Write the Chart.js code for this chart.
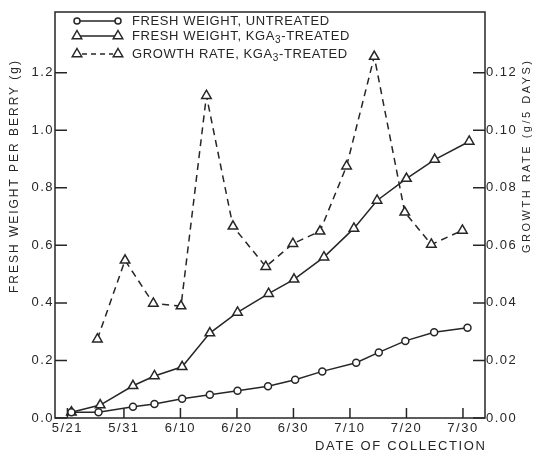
<!DOCTYPE html>
<html>
<head>
<meta charset="utf-8">
<script src="https://cdn.jsdelivr.net/npm/chart.js@4"></script>
<style>
html, body { margin: 0; padding: 0; background: #fff; }
#wrap { position: relative; width: 539px; height: 454px; }
</style>
</head>
<body>
<div id="wrap"><canvas id="berry-chart" width="539" height="454"></canvas></div>
<script>
// x values are days after 5/21
const untreatedDays = [0.7, 5.5, 11.6, 15.4, 20.3, 25.2, 30.1, 35.5, 40.3, 45.1, 51.1, 55.1, 59.8, 64.9, 70.8];
const untreatedWeight = [0.020, 0.020, 0.039, 0.049, 0.067, 0.081, 0.095, 0.110, 0.133, 0.162, 0.192, 0.228, 0.268, 0.298, 0.314];

const treatedDays = [0.7, 5.8, 11.6, 15.4, 20.3, 25.2, 30.1, 35.6, 40.1, 45.4, 50.7, 54.8, 60.0, 65.0, 71.1];
const treatedWeight = [0.020, 0.045, 0.112, 0.146, 0.178, 0.295, 0.367, 0.432, 0.482, 0.559, 0.659, 0.756, 0.832, 0.898, 0.961];

const rateDays = [5.3, 10.2, 15.2, 20.1, 24.6, 29.3, 35.1, 39.9, 44.7, 49.4, 54.3, 59.7, 64.4, 69.9];
const rateValues = [0.0274, 0.0548, 0.0398, 0.0389, 0.112, 0.0666, 0.0526, 0.0606, 0.0649, 0.0875, 0.1256, 0.0715, 0.0603, 0.0652];

const dateTicks = [0, 10, 20, 30, 40, 50, 60, 70];
const dateLabels = ['5/21', '5/31', '6/10', '6/20', '6/30', '7/10', '7/20', '7/30'];
const weightTicks = [0, 0.2, 0.4, 0.6, 0.8, 1.0, 1.2];
const rateTicks = [0, 0.02, 0.04, 0.06, 0.08, 0.10, 0.12];

const ink = '#262626';
const fontFamily = '"Liberation Sans", Arial, sans-serif';

function toPoints(xs, ys) {
    return xs.map((d, i) => ({ x: d, y: ys[i] }));
}

function triangle(ctx, x, y, r) {
    ctx.beginPath();
    ctx.moveTo(x, y - r);
    ctx.lineTo(x + r * 0.866, y + r * 0.5);
    ctx.lineTo(x - r * 0.866, y + r * 0.5);
    ctx.closePath();
    ctx.fillStyle = '#fff';
    ctx.fill();
    ctx.stroke();
}

function circle(ctx, x, y, r) {
    ctx.beginPath();
    ctx.arc(x, y, r, 0, Math.PI * 2);
    ctx.fillStyle = '#fff';
    ctx.fill();
    ctx.stroke();
}

// text spread out to a given width, like the hand lettering
function spacedText(ctx, text, x, y, width, align) {
    ctx.letterSpacing = '0px';
    const w = ctx.measureText(text).width;
    const gap = (width - w) / (text.length - 1);
    ctx.letterSpacing = gap + 'px';
    ctx.textAlign = 'left';
    const startX = align === 'right' ? x - width : (align === 'center' ? x - width / 2 : x);
    ctx.fillText(text, startX, y);
}

function legendLabel(ctx, parts, x, y) {
    ctx.letterSpacing = '0.6px';
    ctx.textAlign = 'left';
    let cx = x;
    parts.forEach(p => {
        ctx.font = p.sub ? '10px ' + fontFamily : '13px ' + fontFamily;
        ctx.fillText(p.t, cx, y + (p.sub ? 4 : 0));
        cx += ctx.measureText(p.t).width;
    });
}

const paperPlugin = {
    id: 'paper',
    beforeDraw(chart) {
        chart.ctx.letterSpacing = '1.5px';
    },
    afterDraw(chart) {
        const ctx = chart.ctx;
        const area = chart.chartArea;
        const sx = chart.scales.x, sy = chart.scales.y, sy2 = chart.scales.y2;
        ctx.save();
        ctx.strokeStyle = ink;
        ctx.fillStyle = ink;
        ctx.lineWidth = 1.5;
        ctx.strokeRect(area.left, area.top, area.right - area.left, area.bottom - area.top);

        ctx.beginPath();
        dateTicks.forEach(d => {
            const px = sx.getPixelForValue(d);
            ctx.moveTo(px, area.bottom);
            ctx.lineTo(px, area.bottom - 10);
        });
        weightTicks.forEach(v => {
            const py = sy.getPixelForValue(v);
            ctx.moveTo(area.left, py);
            ctx.lineTo(area.left + 12, py);
        });
        rateTicks.forEach(v => {
            const py = sy2.getPixelForValue(v);
            ctx.moveTo(area.right, py);
            ctx.lineTo(area.right - 12, py);
        });
        ctx.stroke();

        // axis titles
        ctx.textBaseline = 'middle';
        ctx.font = '12px ' + fontFamily;
        ctx.save();
        ctx.translate(15, 177);
        ctx.rotate(-Math.PI / 2);
        spacedText(ctx, 'FRESH WEIGHT PER BERRY (g)', 0, 0, 232, 'center');
        ctx.restore();

        ctx.font = '11px ' + fontFamily;
        ctx.save();
        ctx.translate(527, 157);
        ctx.rotate(-Math.PI / 2);
        spacedText(ctx, 'GROWTH RATE (g/5 DAYS)', 0, 0, 192, 'center');
        ctx.restore();

        ctx.font = '13px ' + fontFamily;
        spacedText(ctx, 'DATE OF COLLECTION', area.right, 446, 170, 'right');

        // legend
        const lx1 = 77, lx2 = 118, tx = 132;
        const rows = [21, 36, 54];
        ctx.lineWidth = 1.5;
        ctx.beginPath();
        ctx.moveTo(lx1, rows[0]); ctx.lineTo(lx2, rows[0]);
        ctx.moveTo(lx1, rows[1]); ctx.lineTo(lx2, rows[1]);
        ctx.stroke();
        ctx.setLineDash([5, 4]);
        ctx.beginPath();
        ctx.moveTo(lx1 + 5, rows[2]); ctx.lineTo(lx2 - 5, rows[2]);
        ctx.stroke();
        ctx.setLineDash([]);
        circle(ctx, lx1, rows[0], 3);
        circle(ctx, lx2, rows[0], 3);
        triangle(ctx, lx1, rows[1], 5.5);
        triangle(ctx, lx2, rows[1], 5.5);
        triangle(ctx, lx1, rows[2], 5.5);
        triangle(ctx, lx2, rows[2], 5.5);

        ctx.fillStyle = ink;
        legendLabel(ctx, [{ t: 'FRESH WEIGHT, UNTREATED' }], tx, rows[0]);
        legendLabel(ctx, [{ t: 'FRESH WEIGHT, KGA' }, { t: '3', sub: true }, { t: '-TREATED' }], tx, rows[1]);
        legendLabel(ctx, [{ t: 'GROWTH RATE, KGA' }, { t: '3', sub: true }, { t: '-TREATED' }], tx, rows[2]);
        ctx.restore();
        ctx.letterSpacing = '0px';
    }
};

const tickFont = { family: fontFamily, size: 13 };

const berryChart = new Chart(document.getElementById('berry-chart').getContext('2d'), {
    type: 'line',
    data: {
        datasets: [{
            label: 'FRESH WEIGHT, UNTREATED',
            data: toPoints(untreatedDays, untreatedWeight),
            yAxisID: 'y',
            borderColor: ink,
            borderWidth: 1.5,
            pointStyle: 'circle',
            pointRadius: 3.5,
            pointBorderWidth: 1.5,
            pointBackgroundColor: '#fff',
            pointBorderColor: ink,
            tension: 0
        }, {
            label: 'FRESH WEIGHT, KGA3-TREATED',
            data: toPoints(treatedDays, treatedWeight),
            yAxisID: 'y',
            borderColor: ink,
            borderWidth: 1.5,
            pointStyle: 'triangle',
            pointRadius: 5.5,
            pointBorderWidth: 1.5,
            pointBackgroundColor: '#fff',
            pointBorderColor: ink,
            tension: 0
        }, {
            label: 'GROWTH RATE, KGA3-TREATED',
            data: toPoints(rateDays, rateValues),
            yAxisID: 'y2',
            borderColor: ink,
            borderWidth: 1.5,
            borderDash: [7, 5],
            pointStyle: 'triangle',
            pointRadius: 5.5,
            pointBorderWidth: 1.5,
            pointBackgroundColor: '#fff',
            pointBorderColor: ink,
            tension: 0
        }]
    },
    options: {
        responsive: false,
        animation: false,
        events: [],
        layout: { padding: { top: 12, left: 0, right: 0, bottom: 0 } },
        plugins: {
            legend: { display: false },
            tooltip: { enabled: false }
        },
        scales: {
            x: {
                type: 'linear',
                min: -2.2,
                max: 73.9,
                grid: { display: false, drawTicks: false },
                border: { display: false },
                afterBuildTicks: s => { s.ticks = dateTicks.map(v => ({ value: v })); },
                afterFit: s => { s.height = 36; },
                ticks: {
                    autoSkip: false,
                    maxRotation: 0,
                    padding: 3,
                    color: ink,
                    font: tickFont,
                    callback: v => dateLabels[dateTicks.indexOf(v)]
                }
            },
            y: {
                position: 'left',
                min: 0,
                max: 1.411,
                grid: { display: false, drawTicks: false },
                border: { display: false },
                afterBuildTicks: s => { s.ticks = weightTicks.map(v => ({ value: v })); },
                afterFit: s => { s.width = 55; },
                ticks: {
                    padding: 1,
                    color: ink,
                    font: tickFont,
                    callback: v => v.toFixed(1)
                }
            },
            y2: {
                position: 'right',
                min: 0,
                max: 0.1411,
                grid: { display: false, drawTicks: false },
                border: { display: false },
                afterBuildTicks: s => { s.ticks = rateTicks.map(v => ({ value: v })); },
                afterFit: s => { s.width = 54; },
                ticks: {
                    padding: 1,
                    color: ink,
                    font: tickFont,
                    callback: v => v.toFixed(2)
                }
            }
        }
    },
    plugins: [paperPlugin]
});
</script>
</body>
</html>
